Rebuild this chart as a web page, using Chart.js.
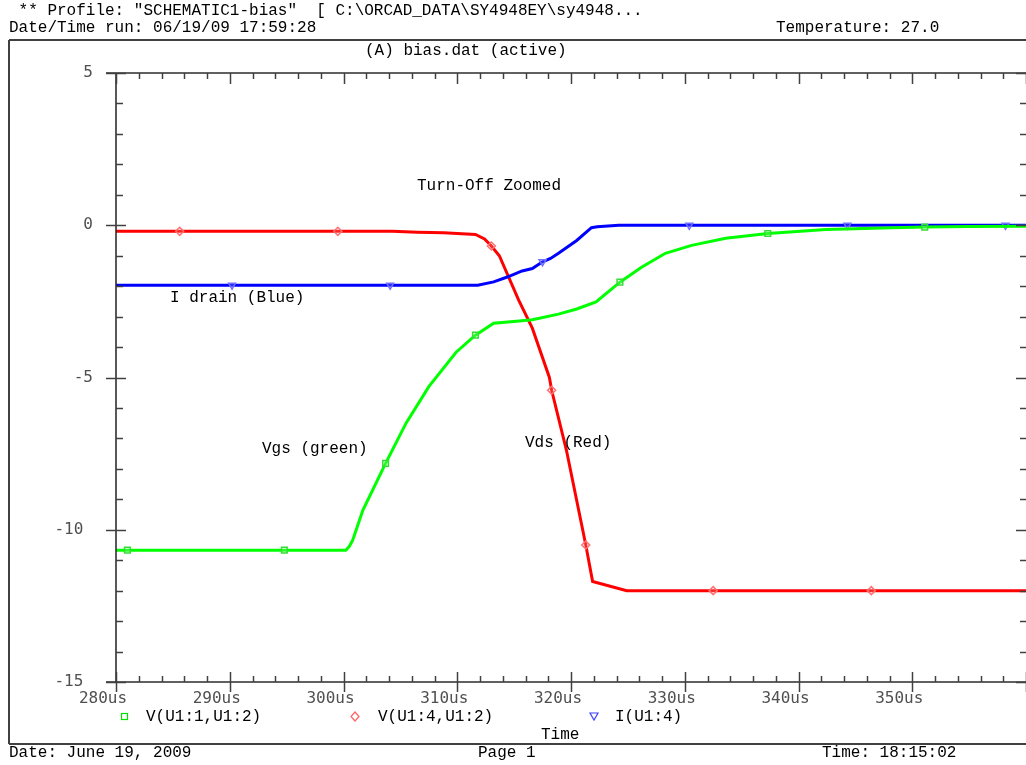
<!DOCTYPE html>
<html>
<head>
<meta charset="utf-8">
<script src="https://cdn.jsdelivr.net/npm/chart.js@4.4.0/dist/chart.umd.min.js"></script>
<style>
  html, body { margin: 0; padding: 0; background: #fff; }
  canvas { display: block; }
</style>
</head>
<body>
<canvas id="c" width="1026" height="765"></canvas>
<script>
// Vgs - V(U1:1,U1:2), green
const greenT = [280, 281, 294.8, 300.2, 300.5, 300.8, 301.7, 303.7, 305.5, 307.5, 309.9, 311.6, 313.2, 315.2, 316.6, 318.9, 320.5, 322.2, 324.3, 326.2, 328.3, 330.6, 333.6, 337.3, 342.4, 348.2, 351.1, 355, 360];
const greenV = [-10.67, -10.67, -10.67, -10.67, -10.55, -10.35, -9.36, -7.82, -6.5, -5.3, -4.17, -3.61, -3.22, -3.15, -3.1, -2.92, -2.75, -2.52, -1.87, -1.38, -0.92, -0.66, -0.43, -0.27, -0.14, -0.08, -0.06, -0.04, -0.03];
const greenMarks = [281, 294.8, 303.7, 311.6, 324.3, 337.3, 351.1];

// Vds - V(U1:4,U1:2), red
const redT = [280, 285.6, 299.5, 304.3, 306.5, 308.8, 311.6, 312.4, 313.0, 313.7, 315.4, 316.6, 318.1, 318.3, 319.6, 321.3, 321.9, 324.9, 332.5, 346.4, 360];
const redV = [-0.2, -0.2, -0.2, -0.2, -0.23, -0.25, -0.3, -0.45, -0.68, -1.0, -2.46, -3.38, -5.0, -5.42, -7.39, -10.5, -11.7, -12.0, -12.0, -12.0, -12.0];
const redMarks = [285.6, 299.5, 313.0, 318.3, 321.3, 332.5, 346.4];

// I drain - I(U1:4), blue
const blueT = [280, 290.2, 304.1, 311.8, 313.2, 314.4, 315.7, 316.6, 317.5, 318.2, 318.9, 320.5, 321.8, 322.3, 324.2, 330.4, 344.3, 358.2, 360];
const blueV = [-1.97, -1.97, -1.97, -1.97, -1.86, -1.70, -1.50, -1.42, -1.2, -1.09, -0.92, -0.5, -0.08, -0.05, 0, 0, 0, 0, 0];
const blueMarks = [290.2, 304.1, 317.5, 330.4, 344.3, 358.2];

const xMin = 280, xMax = 360, xStep = 10;
const yMin = -15, yMax = 5, yStep = 5;

const FONT = '"Liberation Mono", "Courier New", monospace';
const TICKFONT = '"DejaVu Sans Mono", monospace';

const toXY = (ts, vs) => ts.map((t, i) => ({ x: t, y: vs[i] }));
const radii = (ts, marks) => ts.map(t => marks.includes(t) ? 4 : 0);

function series(label, ts, vs, marks, color, markColor, style, rot) {
    return {
        label,
        data: toXY(ts, vs),
        borderColor: color,
        borderWidth: 3,
        tension: 0,
        pointRadius: radii(ts, marks),
        pointHoverRadius: 0,
        pointStyle: style,
        rotation: rot,
        pointBorderColor: markColor,
        pointBackgroundColor: 'rgba(255,255,255,0.15)',
        pointBorderWidth: 1.5,
    };
}

// axes frame, ticks, labels and page text
const decor = {
    id: 'decor',
    afterDraw(chart) {
        const ctx = chart.ctx;
        const xs = chart.scales.x, ys = chart.scales.y;
        const L = chart.chartArea.left, R = chart.chartArea.right;
        const T = chart.chartArea.top, B = chart.chartArea.bottom;
        const seg = (x1, y1, x2, y2) => { ctx.beginPath(); ctx.moveTo(x1, y1); ctx.lineTo(x2, y2); ctx.stroke(); };
        ctx.save();

        // page frame
        ctx.strokeStyle = '#404040';
        ctx.lineWidth = 2;
        seg(9, 40, 1026, 40);
        seg(9, 40, 9, 744);
        seg(9, 744, 1026, 744);

        // top / bottom axis lines
        ctx.strokeStyle = '#606060';
        ctx.lineWidth = 2;
        seg(L - 10, T, R, T);
        seg(L - 10, B, R, B);
        // left axis
        ctx.strokeStyle = '#202020';
        ctx.lineWidth = 1.5;
        seg(L, T, L, B);

        // x ticks
        ctx.strokeStyle = '#404040';
        ctx.lineWidth = 1.5;
        for (let t = xMin; t <= xMax; t += 2) {
            const px = Math.round(xs.getPixelForValue(t)) + 0.5;
            const major = (t - xMin) % xStep === 0;
            if (major) {
                seg(px, B - 10, px, B + 10);
                seg(px, T, px, T + 11);
            } else {
                seg(px, B, px, B - 6);
                seg(px, T, px, T + 6);
            }
        }
        // y ticks
        for (let v = yMin; v <= yMax; v += 1) {
            const py = Math.round(ys.getPixelForValue(v)) + 0.5;
            const major = (v - yMin) % yStep === 0;
            if (major) {
                seg(L - 10, py, L + 10, py);
                seg(R - 10, py, R, py);
            } else {
                seg(L, py, L + 7, py);
                seg(R - 6, py, R, py);
            }
        }

        // texts
        ctx.fillStyle = '#000';
        ctx.font = '16px ' + FONT;
        ctx.textBaseline = 'middle';
        ctx.textAlign = 'left';
        ctx.fillText(' ** Profile: "SCHEMATIC1-bias"  [ C:\\ORCAD_DATA\\SY4948EY\\sy4948...', 9, 11);
        ctx.fillText('Date/Time run: 06/19/09 17:59:28', 9, 28);
        ctx.fillText('Temperature: 27.0', 776, 28);
        ctx.fillText('(A) bias.dat (active)', 365, 51);
        ctx.fillText('Turn-Off Zoomed', 417, 186);
        ctx.fillText('I drain (Blue)', 170, 298);
        ctx.fillText('Vgs (green)', 262, 449);
        ctx.fillText('Vds (Red)', 525, 443);
        ctx.fillText('V(U1:1,U1:2)', 146, 717);
        ctx.fillText('V(U1:4,U1:2)', 378, 717);
        ctx.fillText('I(U1:4)', 615, 717);
        ctx.fillText('Time', 541, 735);
        ctx.fillText('Date: June 19, 2009', 9, 753);
        ctx.fillText('Page 1', 478, 753);
        ctx.fillText('Time: 18:15:02', 822, 753);

        // legend symbols
        ctx.lineWidth = 1.2;
        ctx.strokeStyle = '#00e000';
        ctx.strokeRect(121.5, 713.5, 6, 6);
        ctx.strokeStyle = '#ff6060';
        ctx.beginPath();
        ctx.moveTo(355, 712); ctx.lineTo(359, 716.5); ctx.lineTo(355, 721); ctx.lineTo(351, 716.5); ctx.closePath();
        ctx.stroke();
        ctx.strokeStyle = '#4040ff';
        ctx.beginPath();
        ctx.moveTo(590, 713); ctx.lineTo(598, 713); ctx.lineTo(594, 720); ctx.closePath();
        ctx.stroke();
        ctx.restore();
    }
};

new Chart(document.getElementById('c'), {
    type: 'line',
    data: {
        datasets: [
            series('V(U1:1,U1:2)', greenT, greenV, greenMarks, '#00ff00', '#33dd33', 'rect', 0),
            series('I(U1:4)', blueT, blueV, blueMarks, '#0000ff', '#7070ff', 'triangle', 180),
            series('V(U1:4,U1:2)', redT, redV, redMarks, '#ff0000', '#ff7070', 'rectRot', 0),
        ],
    },
    options: {
        responsive: false,
        animation: false,
        devicePixelRatio: 1,
        layout: { autoPadding: false, padding: { left: 0, right: 0, top: 73, bottom: 43 } },
        plugins: { legend: { display: false }, tooltip: { enabled: false }, title: { display: false } },
        scales: {
            x: {
                type: 'linear', min: xMin, max: xMax,
                afterFit: s => { s.height = 40; },
                grid: { display: false }, border: { display: false },
                ticks: {
                    stepSize: xStep, autoSkip: false, maxRotation: 0, padding: -1, labelOffset: -13,
                    color: '#505050', font: { family: TICKFONT, size: 16 },
                    callback: v => v < xMax ? v + 'us' : '',
                },
            },
            y: {
                min: yMin, max: yMax,
                afterFit: s => { s.width = 116; },
                grid: { display: false }, border: { display: false },
                ticks: {
                    stepSize: yStep, padding: 15,
                    color: '#505050', font: { family: TICKFONT, size: 16 },
                    callback: v => Math.abs(v) >= 10 ? v + ' ' : '' + v,
                },
            },
        },
    },
    plugins: [decor],
});
</script>
</body>
</html>
